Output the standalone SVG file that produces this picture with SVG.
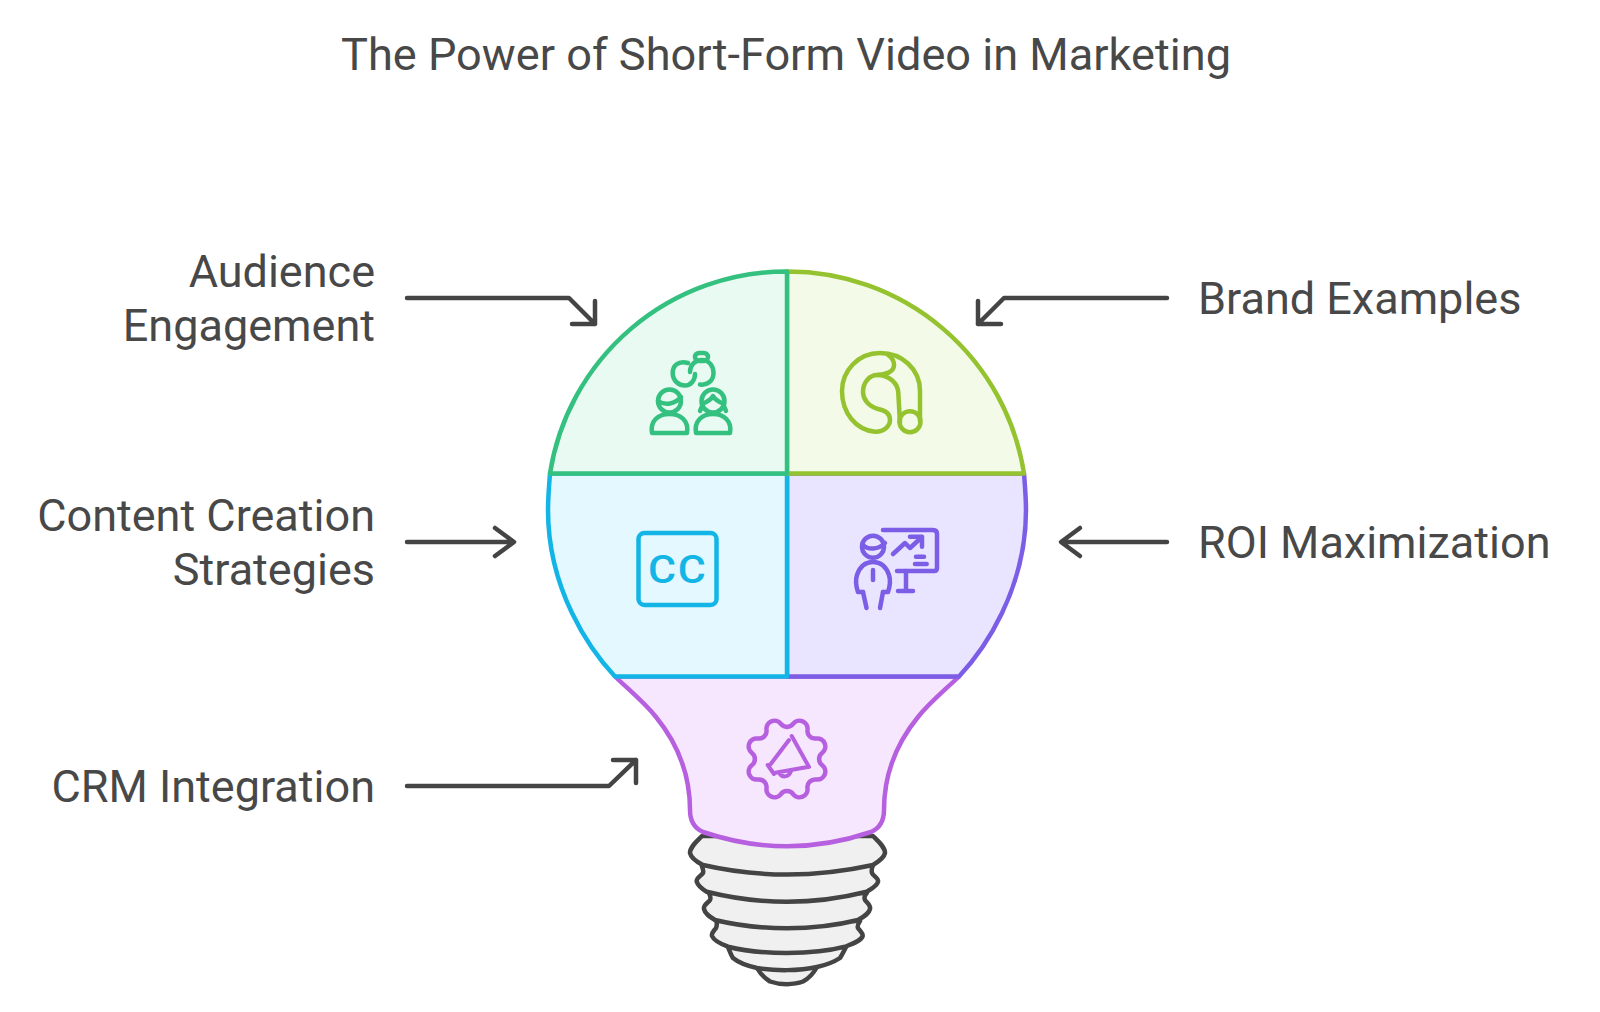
<svg xmlns="http://www.w3.org/2000/svg" width="1600" height="1012" viewBox="0 0 1600 1012">
<style>
text{font-family:Roboto,"Liberation Sans",sans-serif;font-size:45px;fill:#484848}
.e{text-anchor:end}
.t{text-anchor:middle;font-size:45.150px}
.cc{font-size:39px;font-weight:500;fill:#13b5e6;letter-spacing:1.500px}
.a{fill:none;stroke:#444;stroke-width:4.5;stroke-linecap:round;stroke-linejoin:round}
.i{fill:none;stroke-width:4.5;stroke-linecap:round;stroke-linejoin:round}
.s{stroke-width:4.5;stroke-linejoin:round}
.g{stroke:#34c180}.l{stroke:#95c22f}.b{stroke:#13b5e6}.p{stroke:#7b5de6}.m{stroke:#b660e0}
.base{fill:#f0f0f0;stroke:#444;stroke-width:4.5;stroke-linejoin:round}
</style>
<rect width="1600" height="1012" fill="#fff"/>
<text class="t" x="786" y="70">The Power of Short-Form Video in Marketing</text>

<g id="base">
<path class="base" d="M757 968C761 975 766 979 770 981.500C780 985 794 985 803 981.500C808 979 813 974 817 967Z"/>
<path class="base" d="M728 947C730 952 731 955 733 958C739 963 748 966 757 968C775 971 799 971 817 967C826 965 834 962 840 958C842 955 844 951 846 947Z"/>
<path class="base" d="M716.500 921C717 924 717 926 716 928C714 931 711 933 712 936C714 941 721 944 728 946.700C760 955 814 955 845 946.700C852 944 861 941 862.700 936C863 933 860 931 858 928C857 926 858 924 860 921Z"/>
<path class="base" d="M709 893C710 895 711 898 710 900C708 903 703 905 704 909C705 914 710 917 715 920C760 931 814 931 858 920C863 917 869 914 870 909C871 905 867 903 865 900C864 898 865 895 866.700 893Z"/>
<path class="base" d="M701.700 865C702 868 704 870 703 873C701 876 696 878 696.700 881.700C698 886 702 889 706.700 891.700C760 905 814 905 866.700 891.700C871 889 877 886 878 881.700C879 878 873 876 872 873C871 870 872 868 873 865Z"/>
<path class="base" d="M702 836C697 841 690 847 690 853C691 858 697 862 703 865C760 878 814 878 873 865C878 862 884 858 885 853C885 847 878 841 873 836Z"/>
</g>

<g id="crm-integration">
<path class="s m" d="M615 676.500H959C945 690 930 702 918 717C896 744 884 775 884 810C884 820 880 828 871 832C815 851 759 851 703 832C694 828 690 820 690 810C690 775 678 744 656 717C644 702 629 690 615 676.500Z" fill="#f6e6fe"/>
<path class="i m" transform="translate(787 759)" d="M6.300 -35.300A8 8 0 0 1 20.500 -29.400A7.800 7.800 0 0 0 29.400 -20.500A8 8 0 0 1 35.300 -6.300A7.800 7.800 0 0 0 35.300 6.300A8 8 0 0 1 29.400 20.500A7.800 7.800 0 0 0 20.500 29.400A8 8 0 0 1 6.300 35.300A7.800 7.800 0 0 0 -6.300 35.300A8 8 0 0 1 -20.500 29.400A7.800 7.800 0 0 0 -29.400 20.500A8 8 0 0 1 -35.300 6.300A7.800 7.800 0 0 0 -35.300 -6.300A8 8 0 0 1 -29.400 -20.500A7.800 7.800 0 0 0 -20.500 -29.400A8 8 0 0 1 -6.300 -35.300A7.800 7.800 0 0 0 6.300 -35.300Z"/>
<path class="i m" style="stroke-width:4" d="M791.700 736L809 767M789 740L770 765M767.700 765L774 774M774 773L809 766.700M779 772C781 778 789 778 791 771"/>
</g>

<g id="roi-maximization">
<path class="s p" d="M1024 473.500H787V676.500H959C984 650 1026 590 1026 510C1026 498 1025 486 1024 473.500Z" fill="#e9e4ff"/>
<g class="i p">
<circle cx="873" cy="546.700" r="11"/>
<path d="M863 545C868 550 878 550 885 543"/>
<path d="M863 592H858C856 586 855 581 857 575C860 566 866 562 873 562C880 562 886 566 889 575C891 581 890 586 888 592H883"/>
<path d="M863 592L866.500 608M883 592L880 608M873 570V580"/>
<path d="M883 530H933C936 530 937 532 937 534V568C937 570 936 571 934 571H897"/>
<path d="M906 571V591M898 591H913M893 554L905 543L910 548L922 537M910 536.700H922V546.700M916 556.700H924M915 564H926.700"/>
</g>
</g>

<g id="content-creation-strategies">
<path class="s b" d="M550 473.500H787V676.500H615C590 650 548 590 548 510C548 498 549 486 550 473.500Z" fill="#e4f8ff"/>
<rect class="i b" x="638.500" y="533" width="78" height="72" rx="6"/>
<text class="cc" transform="translate(648 582.500) scale(1.100 1)">CC</text>
</g>

<g id="brand-examples">
<path class="s l" d="M787 271.500A239 239 0 0 1 1024 473.500H787Z" fill="#f3fbe8"/>
<g class="i l">
<path d="M920 421V391C920 369 902 353 880 353C858 353 842 371 842 391C842 413 856 430 875 431.700C884 432 890 426 890 420C890 413 884 410 878 409C868 406 863 399 863 392C863 382 870 375 877 375C889 375 898 383 898.300 393L900 423"/>
<circle cx="910" cy="421.700" r="10.500"/>
<path d="M877 375C885 375 894 372 894 365C894 360 891 357 888 355"/>
</g>
</g>

<g id="audience-engagement">
<path class="s g" d="M787 271.500A239 239 0 0 0 550 473.500H787Z" fill="#e8faf2"/>
<g class="i g">
<path d="M688 363C678 360 672.700 366 672.700 373C672.700 381 679 385.500 685 385.500C691 385.500 695 380 695 374"/>
<path d="M690 372C690 365 695 360 702 360C709 360 713.500 366 713.500 373C713.500 381 707 385.500 700 384.500"/>
<rect x="695" y="353" width="13" height="8" rx="4"/>
<circle cx="669.500" cy="401" r="11.500"/>
<path d="M658 401C665 406 675 404 681 397"/>
<path d="M652 433C650 421 658 414 669.500 414C681 414 689 421 687 433Z"/>
<circle cx="713" cy="401" r="11.500"/>
<path d="M702 404C707 402 711 400 713 396C715 400 719 402 724 404M700 411L703 404M726 411L723 404"/>
<path d="M696 433C694 421 702 414 713 414C724 414 732 421 730 433Z"/>
</g>
</g>

<g id="connectors">
<path class="a" d="M407 298H569L595 324M572 324H595V301"/>
<path class="a" d="M1167 298H1004L978 324M1001 324H978V301"/>
<path class="a" d="M407 542H513M495 528L514 542L495 556"/>
<path class="a" d="M1167 542H1062M1080 528L1061 542L1080 556"/>
<path class="a" d="M407 786H609L636 760M613 760H636V783"/>
</g>

<text class="e" x="375" y="287">Audience</text>
<text class="e" x="375" y="341">Engagement</text>
<text class="e" x="375" y="531">Content Creation</text>
<text class="e" x="375" y="585">Strategies</text>
<text class="e" x="375" y="802">CRM Integration</text>
<text x="1198" y="314">Brand Examples</text>
<text x="1198" y="558">ROI Maximization</text>
</svg>
